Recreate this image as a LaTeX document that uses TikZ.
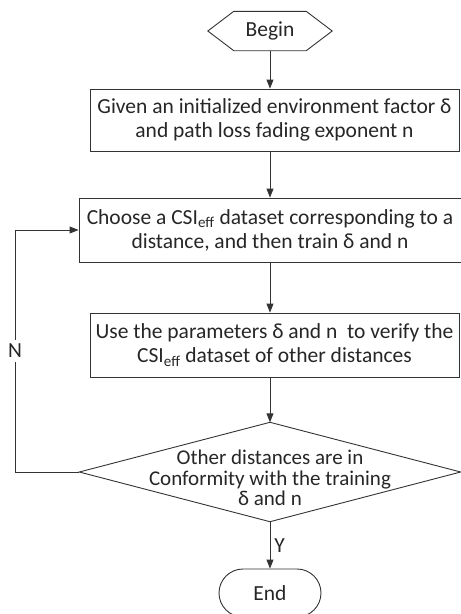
\documentclass[tikz,border=0pt]{standalone}
\usepackage{fontspec}
\setmainfont{Carlito}
\usetikzlibrary{arrows.meta,shapes.misc}
\begin{document}
\begin{tikzpicture}[x=1pt,y=-1pt,
 line/.style={draw=black!80, line width=0.9pt},
 arr/.style={line, -{Triangle[length=9pt,width=7pt]}},
 txt/.style={font=\fontsize{21.5}{24}\selectfont, text=black!85, align=center, inner sep=0pt},
 proc/.style={txt, draw=black!80, line width=0.9pt, rectangle},
 dtxt/.style={font=\fontsize{21}{20.5}\selectfont, text=black!85, align=center, inner sep=0pt},
 term/.style={txt, draw=black!80, line width=0.9pt, rounded rectangle}]
\useasboundingbox (0,0) rectangle (461,614);
\node[txt, minimum width=124pt, minimum height=39pt] (begin) at (270,31) {Begin};
\draw[line] (begin.west) -- ([xshift=26pt]begin.north west) -- ([xshift=-26pt]begin.north east) -- (begin.east) -- ([xshift=-26pt]begin.south east) -- ([xshift=26pt]begin.south west) -- cycle;
\node[proc, minimum width=369pt, minimum height=62pt] (b1) at (274.5,120) {Given an initialized environment factor δ\\and path loss fading exponent n};
\node[proc, minimum width=382pt, minimum height=64pt] (b2) at (270,230) {Choose a CSI\textsubscript{eff} dataset corresponding to a\\distance, and then train δ and n};
\node[proc, minimum width=369pt, minimum height=64pt] (b3) at (274.5,345) {Use the parameters δ and n\ \ to verify the\\CSI\textsubscript{eff} dataset of other distances};
\node[minimum width=381pt, minimum height=99pt, inner sep=0pt] (dec) at (270,472) {};
\draw[line] (dec.north) -- (dec.east) -- (dec.south) -- (dec.west) -- cycle;
\node[dtxt] (dect) at (270,478) {Other distances are in\\Conformity with the training\\δ and n};
\node[term, minimum width=102pt, minimum height=48pt] (end) at (270,593) {End};
\draw[arr] (begin.south) -- (begin.south |- b1.north);
\draw[arr] (b2.north |- b1.south) -- (b2.north);
\draw[arr] (b2.south) -- (b2.south |- b3.north);
\draw[arr] (b2.south |- b3.south) -- (dec.north);
\draw[arr] (dec.south) -- node[right, txt, xshift=4pt] (y) {Y} (end.north);
\coordinate (lb) at (15,472);
\coordinate (lt) at (15,230);
\draw[line] (dec.west) -- (lb) -- node[fill=white, txt, inner ysep=4pt] (n) {N} (lt);
\draw[arr] (lt) -- (b2.west);
\end{tikzpicture}
\end{document}
